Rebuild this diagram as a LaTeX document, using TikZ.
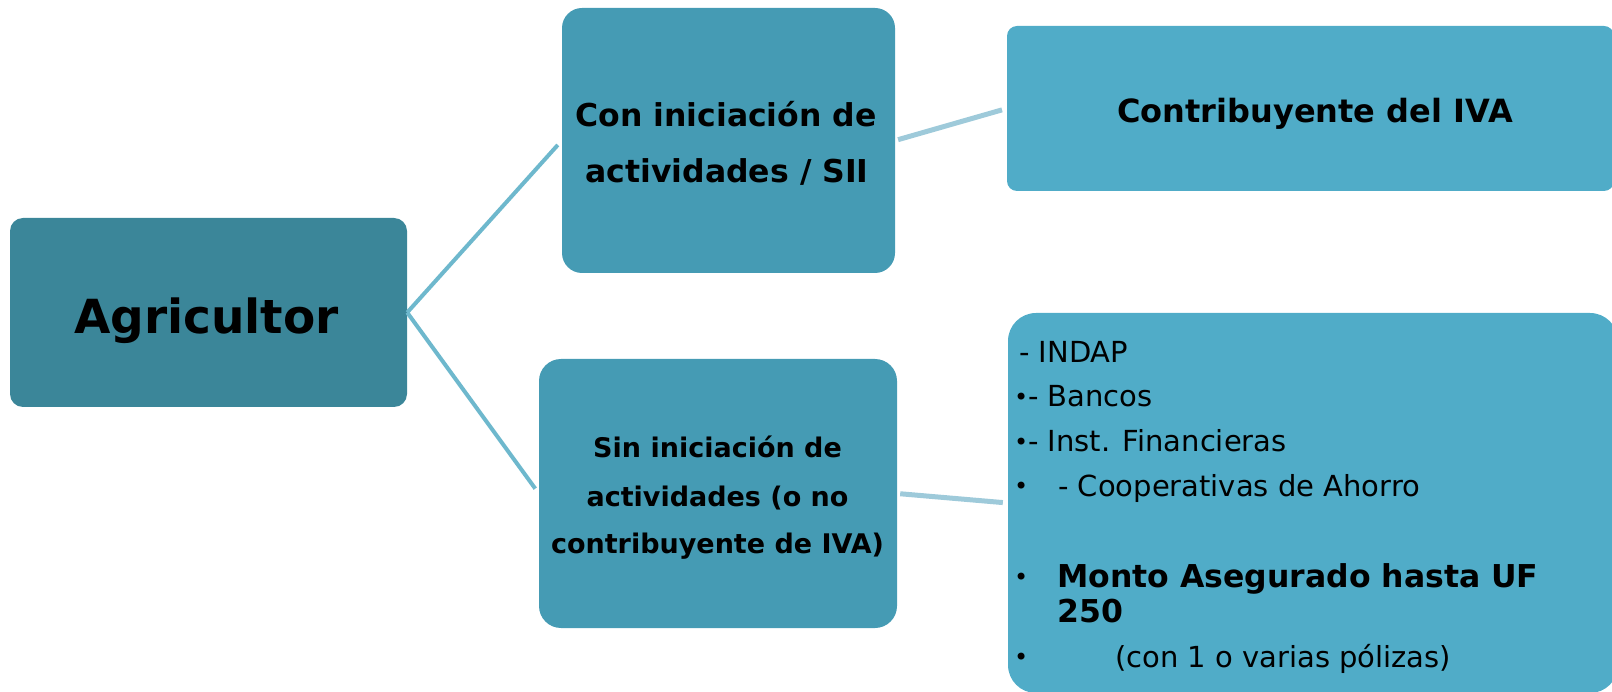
\documentclass[tikz,border=0pt]{standalone}
\usepackage{fontspec}
\setmainfont{DejaVu Sans}
\usepackage{tikz}
\definecolor{agricol}{RGB}{59,134,153}
\definecolor{midcol}{RGB}{69,155,180}
\definecolor{rightcol}{RGB}{80,172,200}
\definecolor{leftline}{RGB}{110,184,205}
\definecolor{rightline}{RGB}{158,202,218}
\newcommand{\listbul}{\raisebox{1.5pt}{\fontsize{24}{28}\selectfont •}}
\tikzset{
  box/.style={rectangle, inner sep=0pt, draw=none},
  txt/.style={inner sep=0pt, anchor=base},
  listtxt/.style={inner sep=0pt, anchor=base west, font=\fontsize{29}{34}\selectfont},
  linkL/.style={draw=leftline, line width=4pt, shorten >=6pt},
  linkR/.style={draw=rightline, line width=5pt, shorten <=3pt, shorten >=5pt}
}
\begin{document}
\begin{tikzpicture}[x=1pt, y=-1pt]
                \useasboundingbox (0,0) rectangle (1612,692);
                \clip (0,0) rectangle (1612,692);

                \node[box, fill=agricol, rounded corners=13pt, minimum width=397pt, minimum height=189pt] (agri) at (208.5,312.5) {};
                \node[box, fill=midcol, rounded corners=20pt, minimum width=333pt, minimum height=265pt] (con) at (728.5,140.5) {};
                \node[box, fill=midcol, rounded corners=22pt, minimum width=358pt, minimum height=269pt] (sin) at (718,493.5) {};
                \node[box, fill=rightcol, rounded corners=10pt, minimum width=607pt, minimum height=165pt] (contrib) at (1310.5,108.5) {};
                \node[box, fill=rightcol, rounded corners=28pt, minimum width=610pt, minimum height=380pt] (list) at (1313,503) {};

                \node[txt, font=\bfseries\fontsize{47}{52}\selectfont] (agriA) at (206.5,334) {Agricultor};

                \node[txt, font=\bfseries\fontsize{31.5}{36}\selectfont] (conA) at (726,127) {Con iniciación de};
                \node[txt, font=\bfseries\fontsize{31.5}{36}\selectfont] (conB) at (727,183) {actividades / SII};

                \node[txt, font=\bfseries\fontsize{27}{32}\selectfont] (sinA) at (717.5,457) {Sin iniciación de};
                \node[txt, font=\bfseries\fontsize{27}{32}\selectfont] (sinB) at (717.5,506) {actividades (o no};
                \node[txt, font=\bfseries\fontsize{27}{32}\selectfont] (sinC) at (717.5,553) {contribuyente de IVA)};

                \node[txt, font=\bfseries\fontsize{32}{36}\selectfont] (contribA) at (1315,123) {Contribuyente del IVA};

                \node[listtxt] (indap) at (1019,363) {- INDAP};
                \node[listtxt] (bancos) at (1014,407) {\makebox[14pt][l]{\listbul}- Bancos};
                \node[listtxt] (inst) at (1014,452) {\makebox[14pt][l]{\listbul}- Inst. Financieras};
                \node[listtxt] (coop) at (1014,496) {\makebox[44pt][l]{\listbul}- Cooperativas de Ahorro};
                \node[listtxt] (monto) at (1014,587) {\makebox[43pt][l]{\listbul}{\bfseries\fontsize{31.5}{36}\selectfont Monto Asegurado hasta UF}};
                \node[listtxt, font=\bfseries\fontsize{31.5}{36}\selectfont] (montoB) at (1057,622) {250};
                \node[listtxt] (polizas) at (1014,667) {\makebox[101pt][l]{\listbul}(con 1 o varias pólizas)};

                \draw[linkL] (agri.east) -- (con.west);
                \draw[linkL] (agri.east) -- (sin.west);
                \draw[linkR] (con.east) -- (contrib.west);
                \draw[linkR] (sin.east) -- (list.west);
            \end{tikzpicture}
\end{document}
